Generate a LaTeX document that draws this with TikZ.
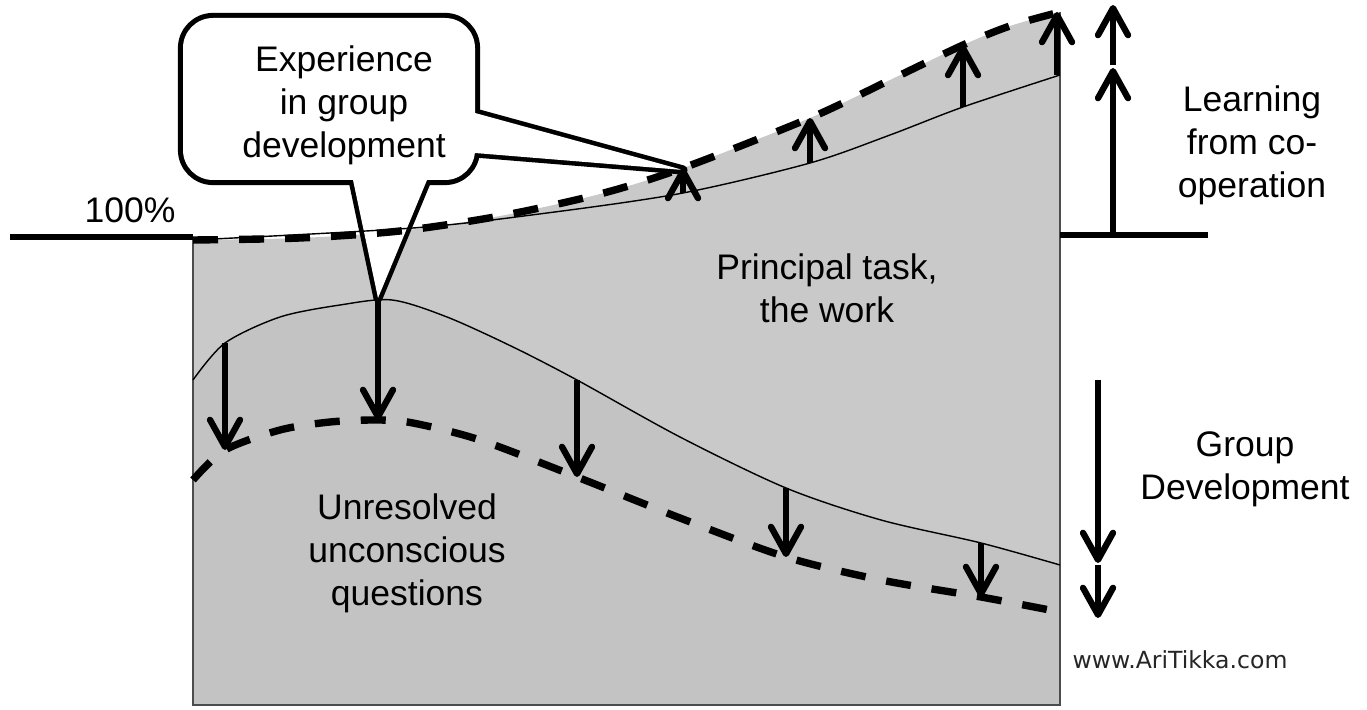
\documentclass[tikz,border=0pt]{standalone}
\usepackage{fontspec}
\setmainfont{Liberation Sans}
\newfontfamily\webfont{DejaVu Sans}
\usetikzlibrary{arrows.meta}
\definecolor{taskgray}{gray}{0.79}
\definecolor{groupgray}{gray}{0.765}
\tikzstyle{label} = [align=center, inner sep=0pt, font=\fontsize{10.1}{12.2}\selectfont]
\tikzstyle{arrow} = [line width=1.8pt, -{Straight Barb[length=2.7mm, width=3mm, round]}]
\tikzstyle{levelline} = [line width=1.8pt]
\tikzstyle{dashline} = [line width=2.1pt, dash pattern=on 2.5mm off 2.1mm]
\tikzstyle{thinline} = [line width=0.4pt]
% the four curves of the chart
\newcommand\learnline{plot[smooth] coordinates {(193,240) (300,238) (400,231) (500,216) (600,194) (683,168) (810,118) (890,80) (963,45) (1010,26) (1060,12)}}
\newcommand\taskline{plot[smooth] coordinates {(193,240) (413,228) (547,213) (683,193) (810,163) (890,135) (963,107) (1060,75)}}
\newcommand\groupline{plot[smooth] coordinates {(193,380) (225,343) (280,317) (340,305) (392,300) (447,317) (513,347) (577,380) (680,437) (786,488) (881,520) (981,543) (1060,565)}}
\newcommand\driftline{plot[smooth] coordinates {(193,480) (225,450) (280,430) (330,422) (378,420) (413,423) (480,440) (577,477) (680,518) (786,557) (881,580) (981,597) (1060,612)}}

\begin{document}
\begin{tikzpicture}[x=0.01cm, y=-0.01cm]
  \useasboundingbox (0,0) rectangle (1367,710);
  % shaded areas
  \fill[taskgray] \learnline -- (1060,705) -- (193,705) -- cycle;
  \fill[groupgray] \groupline -- (1060,705) -- (193,705) -- cycle;
  \draw[thinline, gray!60!black] (193,240) -- (193,705) -- (1060,705) -- (1060,12);

  % 100% level on both sides
  \draw[levelline] (10,237) -- (193,237);
  \draw[levelline] (1060,235) -- (1208,235);

  % speech bubble, black pass first then white on top
  \coordinate (calloutdown) at (378,298);
  \coordinate (calloutright) at (683,170);
  \draw[line width=2.9pt, rounded corners=0.3cm] (183,18) rectangle (475,180);
  \draw[line width=2.6pt, line join=round] (353,180) -- (calloutdown) -- (427,180)
    (475,113) -- (calloutright) -- (475,153);
  \fill[white, rounded corners=0.3cm] (183,18) rectangle (475,180);
  \fill[white] (353,180) -- (calloutdown) -- (427,180) -- cycle
    (475,113) -- (calloutright) -- (475,153) -- cycle;

  % curves
  \draw[thinline] \taskline;
  \draw[thinline] \groupline;
  \draw[dashline] \learnline;
  \draw[dashline] \driftline;

  % shifts of the curves
  \foreach \x/\a/\b in {683/193/168, 810/163/118, 963/107/45, 1057/75/12}
    \draw[arrow] (\x,\a) -- (\x,\b);
  \foreach \x/\a/\b in {225/343/450, 378/300/420, 577/380/477, 786/488/557, 981/543/597}
    \draw[arrow] (\x,\a) -- (\x,\b);
  \draw[arrow] (1113,235) -- (1113,68);
  \draw[arrow] (1113,65) -- (1113,5);
  \draw[arrow] (1098,380) -- (1098,563);
  \draw[arrow] (1098,565) -- (1098,618);

  % texts
  \node (callout) [label] at (344,105) {Experience\\in group\\development};
  \node (hundred) [label] at (130,210) {100\%};
  \node (task) [label] at (827,288) {Principal task,\\the work};
  \node (unresolved) [label] at (407,553) {Unresolved\\unconscious\\questions};
  \node (learning) [label] at (1252,145) {Learning\\from co-\\operation};
  \node (groupdev) [label] at (1245,469) {Group\\Development};
  \node (web) [inner sep=0pt, text=black!85, font=\webfont\fontsize{6.7}{8}\selectfont] at (1180,660) {www.AriTikka.com};
\end{tikzpicture}
\end{document}
